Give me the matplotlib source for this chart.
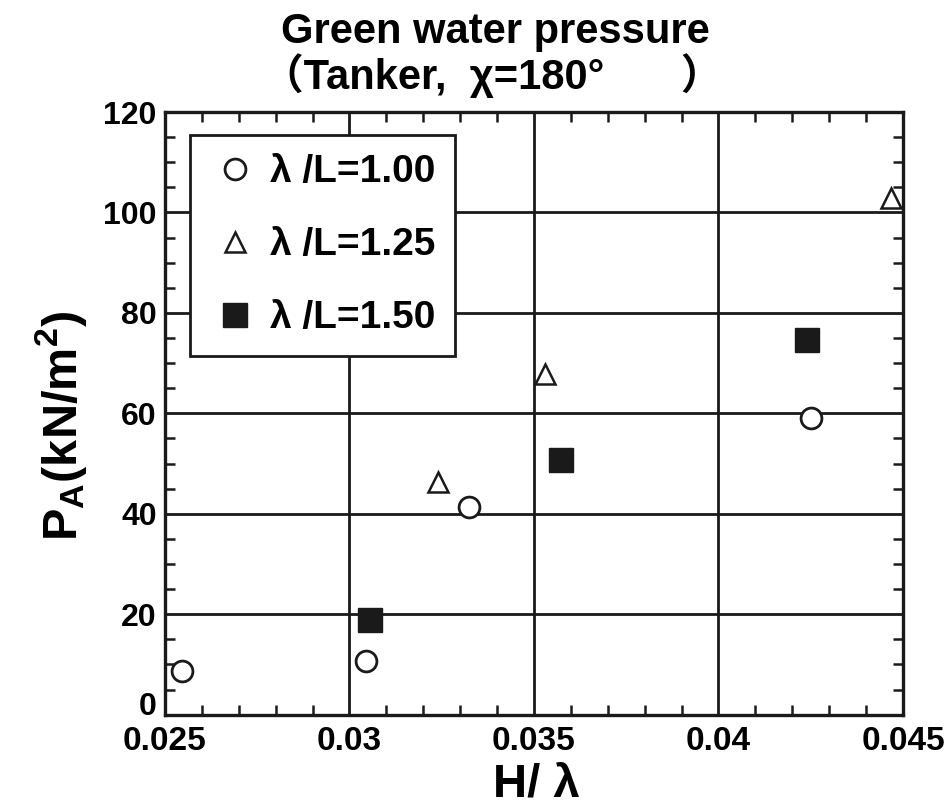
import matplotlib
matplotlib.use('Agg')
from matplotlib import pyplot as plt
from matplotlib.ticker import MultipleLocator

plt.rcParams['font.family'] = ['Liberation Sans', 'Noto Sans CJK JP', 'DejaVu Sans']
plt.rcParams['font.weight'] = 'bold'
plt.rcParams['mathtext.fontset'] = 'custom'
plt.rcParams['mathtext.rm'] = 'Liberation Sans:bold'
plt.rcParams['mathtext.default'] = 'rm'

# H/lambda and pressure for each wave length ratio
h_100 = [0.02545, 0.03045, 0.03324, 0.04251]
p_100 = [8.7, 10.7, 41.3, 59.1]

h_125 = [0.03240, 0.03530, 0.04468]
p_125 = [46.4, 67.9, 102.8]

h_150 = [0.03056, 0.03572, 0.04239]
p_150 = [18.8, 50.8, 74.6]

labels = ['λ /L=1.00', 'λ /L=1.25', 'λ /L=1.50']
xticks = [0.025, 0.03, 0.035, 0.04, 0.045]
xticklabels = ['0.025', '0.03', '0.035', '0.04', '0.045']
yticks = [0, 20, 40, 60, 80, 100, 120]

ink = '#1a1a1a'

fig = plt.figure(figsize=(9.47, 8.07), dpi=100)
ax = fig.add_axes([0.1742, 0.1144, 0.7793, 0.7468])

ax.plot(h_100, p_100, 'o', ls='none', ms=15, mfc='white', mec=ink, mew=2.0,
        label=labels[0], zorder=5)
ax.plot(h_125, p_125, '^', ls='none', ms=15, mfc='white', mec=ink, mew=1.8,
        label=labels[1], zorder=5)
ax.plot(h_150, p_150, 's', ls='none', ms=17, mfc=ink, mec=ink, mew=1.0,
        label=labels[2], zorder=5)

ax.set_xlim(0.025, 0.045)
ax.set_ylim(0, 120)
ax.set_xticks(xticks)
ax.set_xticklabels(xticklabels)
ax.set_yticks(yticks)
ax.xaxis.set_minor_locator(MultipleLocator(0.001))
ax.yaxis.set_minor_locator(MultipleLocator(5))

ax.grid(True, which='major', color=ink, lw=2.0)
ax.set_axisbelow(True)
for s in ax.spines.values():
    s.set_linewidth(2.4)
    s.set_color(ink)

ax.tick_params(which='both', direction='in', top=True, right=True, color=ink)
ax.tick_params(which='major', length=0, width=1.8)
ax.tick_params(which='minor', length=7, width=1.8)
ax.tick_params(axis='x', pad=8, labelsize=24)
ax.tick_params(axis='y', pad=6, labelsize=23)

ax.set_xlabel('H/ λ', fontsize=34, fontweight='bold')
ax.set_ylabel('P$_A$(kN/m$^2$)', fontsize=35, fontweight='bold')
ax.yaxis.set_label_coords(-0.103, 0.48)
ax.xaxis.set_label_coords(0.503, -0.08)

leg = ax.legend(loc='upper left', bbox_to_anchor=(0.034, 0.962), borderaxespad=0,
                fontsize=28, frameon=True, fancybox=False, edgecolor=ink,
                borderpad=0.5, handlelength=1.3, handletextpad=0.25,
                labelspacing=0.95, numpoints=1)
leg.get_frame().set_linewidth(2.0)
leg.get_frame().set_alpha(1)

fig.text(0.523, 0.960, 'Green water pressure', ha='center', va='center',
         fontsize=30, fontweight='bold')
fig.text(0.520, 0.906, '（Tanker,  χ=180°　   ）', ha='center', va='center',
         fontsize=30, fontweight='bold')

# lift the "0" so it clears the first x label
fig.canvas.draw()
for tick in ax.yaxis.get_major_ticks():
    if tick.get_loc() == 0:
        tick.label1.set_va('baseline')

fig.savefig('out.png', dpi=100)
